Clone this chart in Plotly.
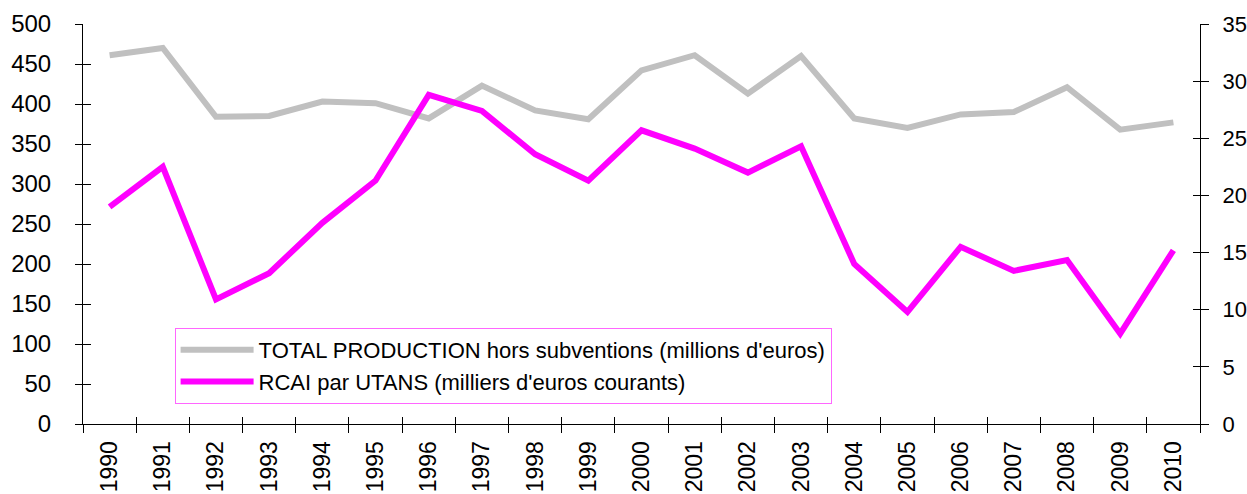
import plotly.graph_objects as go

years = [str(y) for y in range(1990, 2011)]
total_production = [461, 470, 384, 385, 403, 401, 382, 423, 392, 381, 442,
                    461, 413, 460, 382, 370, 387, 390, 421, 368, 377]
rcai_utans = [19.0, 22.5, 10.9, 13.2, 17.6, 21.3, 28.8, 27.4, 23.6, 21.3, 25.7,
              24.1, 22.0, 24.3, 14.0, 9.8, 15.5, 13.4, 14.35, 7.9, 15.2]

name1 = "TOTAL PRODUCTION hors subventions (millions d'euros)"
name2 = "RCAI par UTANS (milliers d'euros courants)"

FONT = "Liberation Sans, Arial, Helvetica, sans-serif"

fig = go.Figure()
fig.add_trace(go.Scatter(x=years, y=total_production, name=name1, mode="lines",
                         line=dict(color="#C0C0C0", width=6), yaxis="y"))
fig.add_trace(go.Scatter(x=years, y=rcai_utans, name=name2, mode="lines",
                         line=dict(color="#FF00FF", width=6), yaxis="y2"))

axis_common = dict(showgrid=False, zeroline=False, showline=True, linecolor="black",
                   linewidth=1, tickcolor="black", tickwidth=1, automargin=False)

fig.update_layout(
    width=1247, height=494,
    margin=dict(l=83, r=47, t=24, b=70),
    paper_bgcolor="white", plot_bgcolor="white",
    font=dict(family=FONT, size=24, color="black"),
    showlegend=True,
    legend=dict(x=0.082, y=0.24, xanchor="left", yanchor="top",
                bordercolor="#FF66FF", borderwidth=1, bgcolor="white",
                font=dict(size=22), itemwidth=73, tracegroupgap=0),
    xaxis=dict(type="category", categoryorder="array", categoryarray=years,
               range=[-0.5, 20.5],
               tickson="boundaries", ticks="outside", ticklen=8, tickangle=-90,
               ticklabelstandoff=7, tickfont=dict(size=23), **axis_common),
    xaxis2=dict(overlaying="x", anchor="y", range=[-0.5, 20.5], tick0=0.5, dtick=1,
                ticks="inside", ticklen=7, showticklabels=False, showgrid=False,
                zeroline=False, showline=False, tickcolor="black", side="bottom",
                automargin=False),
    yaxis=dict(range=[0, 500], dtick=50, ticks="outside", ticklen=7,
               ticklabelstandoff=19, **axis_common),
    yaxis2=dict(range=[0, 35], dtick=5, ticks="outside", ticklen=8, side="right",
                overlaying="y", ticklabelstandoff=9, tickfont=dict(size=22),
                **axis_common),
    yaxis3=dict(range=[0, 500], dtick=50, ticks="inside", ticklen=8, overlaying="y",
                side="left", showticklabels=False, showgrid=False, zeroline=False,
                showline=False, tickcolor="black", anchor="x", automargin=False),
    yaxis4=dict(range=[0, 35], dtick=5, ticks="inside", ticklen=7, overlaying="y",
                side="right", showticklabels=False, showgrid=False, zeroline=False,
                showline=False, tickcolor="black", anchor="x", automargin=False),
)

# empty helper traces so overlay tick axes are drawn
fig.add_trace(go.Scatter(x=[], y=[], xaxis="x2", yaxis="y", showlegend=False, hoverinfo="skip"))
fig.add_trace(go.Scatter(x=[], y=[], xaxis="x", yaxis="y3", showlegend=False, hoverinfo="skip"))
fig.add_trace(go.Scatter(x=[], y=[], xaxis="x", yaxis="y4", showlegend=False, hoverinfo="skip"))

fig.write_html("out.html", config={"displayModeBar": False},
               post_script="document.body.style.margin='0';")
